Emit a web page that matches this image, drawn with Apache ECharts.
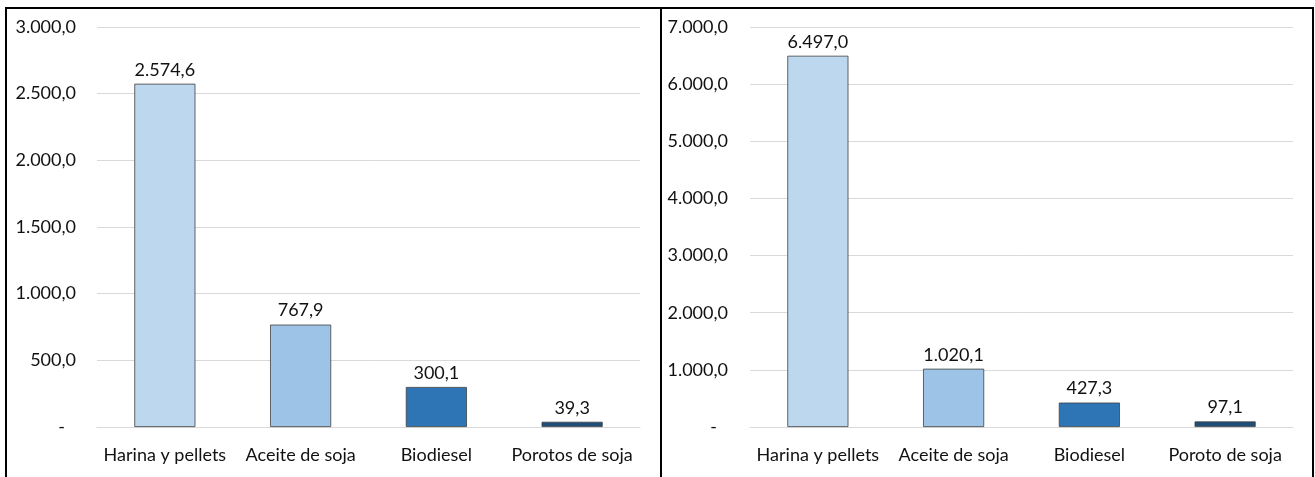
<!DOCTYPE html>
<html><head><meta charset="utf-8">
<script src="https://cdn.jsdelivr.net/npm/echarts@6/dist/echarts.min.js"></script>
<style>html,body{margin:0;padding:0;background:#fff}#c{width:1315px;height:477px}</style>
</head><body><div id="c"></div>
<script>
const categoriesLeft = ['Harina y pellets', 'Aceite de soja', 'Biodiesel', 'Porotos de soja'];
const valuesLeft = [2574.6, 767.9, 300.1, 39.3];
const categoriesRight = ['Harina y pellets', 'Aceite de soja', 'Biodiesel', 'Poroto de soja'];
const valuesRight = [6497.0, 1020.1, 427.3, 97.1];
const barColors = ['#BDD7EE', '#9DC3E6', '#2E75B6', '#1F4E79'];

function fmt(v) {
  const s = v.toFixed(1).split('.');
  const int = s[0].replace(/\B(?=(\d{3})+(?!\d))/g, '.');
  return int + ',' + s[1];
}
function yFmt(v) { return v === 0 ? '{d|-}' : fmt(v); }

const font = 'Lato, "Open Sans", sans-serif';
const txt = '#111';
const fs = 18;

function yAxis(gi, max, interval, margin) {
  return {
    gridIndex: gi, type: 'value', min: 0, max: max, interval: interval,
    axisLine: {show: false}, axisTick: {show: false},
    splitLine: {lineStyle: {color: '#d9d9d9', width: 1}},
    axisLabel: {
      formatter: yFmt, color: txt, fontFamily: font, fontSize: fs, margin: margin,
      rich: {d: {color: txt, fontFamily: font, fontSize: fs, padding: [0, 11, 0, 0]}}
    }
  };
}
function xAxis(gi, cats) {
  return {
    gridIndex: gi, type: 'category', data: cats,
    axisLine: {lineStyle: {color: '#d9d9d9', width: 1}}, axisTick: {show: false},
    axisLabel: {color: txt, fontFamily: font, fontSize: fs, margin: 19, interval: 0}
  };
}
function series(i, vals) {
  return {
    type: 'bar', xAxisIndex: i, yAxisIndex: i, barWidth: '45%',
    data: vals.map((v, k) => ({value: v, itemStyle: {color: barColors[k]}})),
    itemStyle: {borderColor: '#404040', borderWidth: 0.8},
    label: {show: true, position: 'top', distance: 5, color: txt, fontFamily: font, fontSize: fs,
      formatter: p => fmt(p.value)},
    silent: true
  };
}

const chart = echarts.init(document.getElementById('c'));
chart.setOption({
  animation: false,
  grid: [
    {left: 97, right: 675, top: 27, bottom: 50},
    {left: 750, right: 22, top: 27, bottom: 50}
  ],
  xAxis: [xAxis(0, categoriesLeft), xAxis(1, categoriesRight)],
  yAxis: [yAxis(0, 3000, 500, 21), yAxis(1, 7000, 1000, 22)],
  series: [series(0, valuesLeft), series(1, valuesRight)],
  graphic: [
    {type: 'rect', shape: {x: 6, y: 8, width: 1307, height: 472}, style: {fill: 'none', stroke: '#000', lineWidth: 2}, silent: true},
    {type: 'line', shape: {x1: 661, y1: 8, x2: 661, y2: 477}, style: {stroke: '#000', lineWidth: 2}, silent: true}
  ]
});
</script></body></html>
